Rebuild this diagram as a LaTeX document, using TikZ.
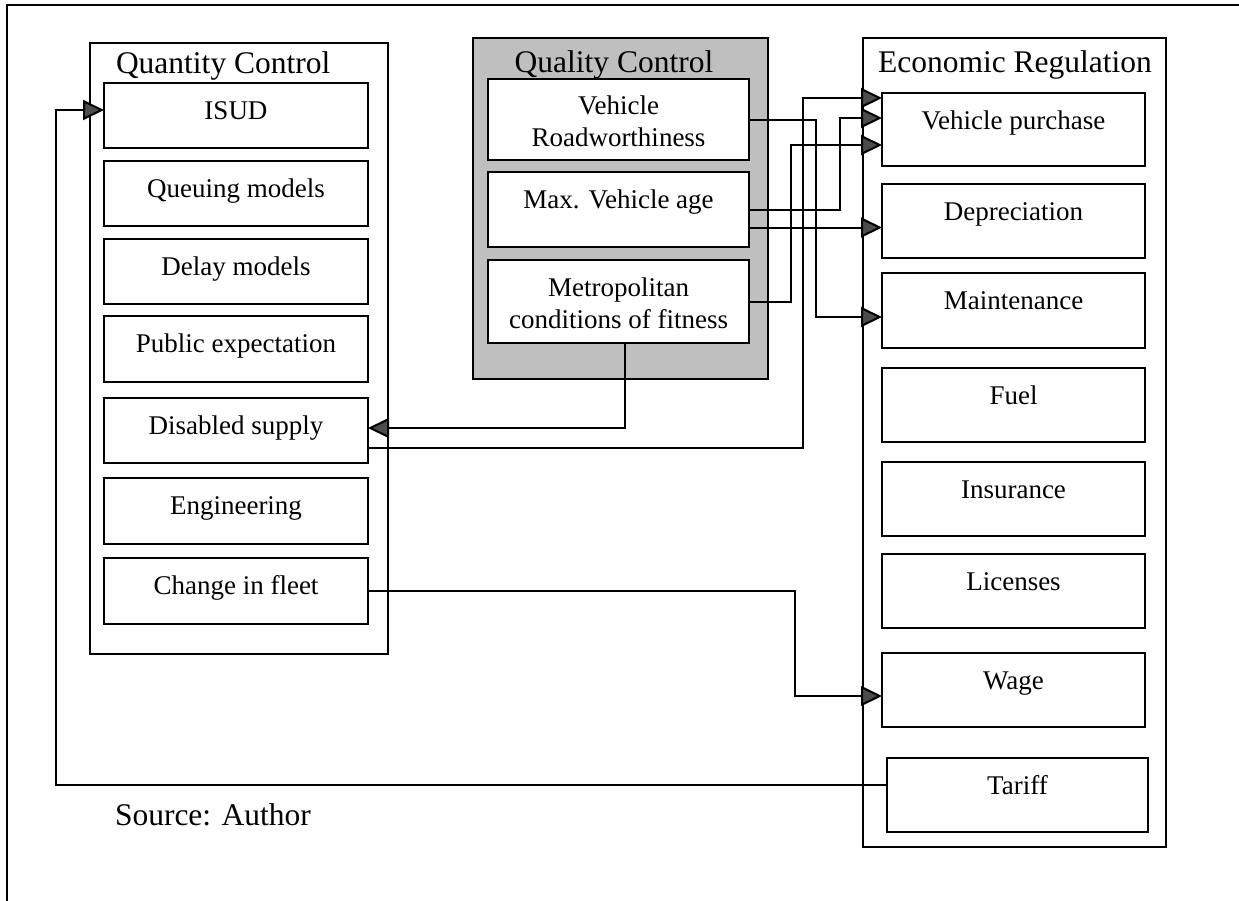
\documentclass[tikz,border=0pt]{standalone}
\usepackage{fontspec}
\setmainfont{Liberation Serif}
\usetikzlibrary{fit,arrows.meta}

% one framed cell: name, corners (x1,y1) (x2,y2), label set near the top
\newcommand\cellbox[6]{%
  \node[cell, fit={(#2,#3)(#4,#5)}] (#1) {};
  \node[celltext] (#1-t) at ([shift={(0,36)}]#1.north) {#6};}

\begin{document}
\begin{tikzpicture}[x=0.5pt,y=-0.5pt,
  every node/.style={inner sep=0pt, outer sep=0pt},
  cell/.style={draw, line width=1pt, fill=white},
  panel/.style={draw, line width=1pt},
  greypanel/.style={panel, fill=gray!50},
  celltext/.style={font=\fontsize{13.5}{16}\selectfont, anchor=base, align=center},
  twoline/.style={font=\fontsize{13.5}{16}\selectfont, anchor=center, align=center},
  paneltitle/.style={font=\fontsize{15.75}{19}\selectfont, anchor=base},
  wire/.style={line width=1pt},
  link/.style={wire, -{Triangle[length=10.5pt,width=10pt,fill=black!70]}}]

\useasboundingbox (0,0) rectangle (1239,901);

% page frame (open at the right and bottom)
\draw[line width=0.8pt] (7,901) -- (7,5) -- (1239,5);

% ---------------- Quantity Control ----------------
\node[panel, fit={(90,43)(388,654)}] (qty) {};
\node[paneltitle, anchor=base west] (qty-t) at (116,73) {Quantity Control};
\cellbox{isud}{104}{83}{368}{148}{ISUD}
\cellbox{queue}{104}{161}{368}{226}{Queuing models}
\cellbox{delay}{104}{239}{368}{304}{Delay models}
\cellbox{public}{104}{316}{368}{382}{Public expectation}
\cellbox{dis}{104}{398}{368}{463}{Disabled supply}
\cellbox{eng}{104}{478}{368}{544}{Engineering}
\cellbox{fleet}{104}{558}{368}{624}{Change in fleet}

% ---------------- Quality Control ----------------
\node[greypanel, fit={(473,38)(768,379)}] (qual) {};
\node[paneltitle] (qual-t) at (614,72) {Quality Control};
\node[cell, fit={(488,79)(749,160)}] (road) {};
\node[twoline] (road-t) at ([shift={(0,42)}]road.north) {Vehicle\\Roadworthiness};
\cellbox{age}{488}{172}{749}{247}{Max. Vehicle age}
\node[cell, fit={(488,260)(749,343)}] (metro) {};
\node[twoline] (metro-t) at ([shift={(0,43)}]metro.north) {Metropolitan\\conditions of fitness};

% ---------------- Economic Regulation ----------------
\node[panel, fit={(863,38)(1166,847)}] (econ) {};
\node[paneltitle] (econ-t) at (1015,72) {Economic Regulation};
\cellbox{vp}{882}{93}{1145}{166}{Vehicle purchase}
\cellbox{dep}{882}{184}{1145}{258}{Depreciation}
\cellbox{maint}{882}{273}{1145}{348}{Maintenance}
\cellbox{fuel}{882}{368}{1145}{442}{Fuel}
\cellbox{ins}{882}{462}{1145}{536}{Insurance}
\cellbox{lic}{882}{554}{1145}{628}{Licenses}
\cellbox{wage}{882}{653}{1145}{727}{Wage}
\cellbox{tariff}{887}{758}{1148}{832}{Tariff}

\node[paneltitle, anchor=base west] (src) at (115,825) {Source: Author};

% ---------------- ports and routing channels ----------------
\coordinate (age-b)     at ([shift={(0,18)}]age.east);
\coordinate (dis-in)    at ([shift={(0,-2.5)}]dis.east);
\coordinate (dis-out)   at ([shift={(0,17.5)}]dis.east);
\coordinate (metro-dn)  at ([shift={(6.5,0)}]metro.south);
\coordinate (vp-1)      at ([shift={(0,-31.5)}]vp.west);
\coordinate (vp-2)      at ([shift={(0,-11.5)}]vp.west);
\coordinate (vp-3)      at ([shift={(0,15.5)}]vp.west);
\coordinate (maint-in)  at ([shift={(0,6.5)}]maint.west);
\coordinate (wage-in)   at ([shift={(0,6)}]wage.west);
\coordinate (tariff-out) at ([shift={(0,-10)}]tariff.west);
\coordinate (isud-in)   at ([shift={(0,-5.5)}]isud.west);

\coordinate (ch-road)  at (816,0);
\coordinate (ch-age)   at (840,0);
\coordinate (ch-metro) at (791,0);
\coordinate (ch-dis)   at (803,0);
\coordinate (ch-fleet) at (795,0);
\coordinate (ch-loop)  at (56,0);

% ---------------- connectors ----------------
\draw[link] (road.east) -- (road.east -| ch-road) |- (maint-in);
\draw[link] (age.east) -- (age.east -| ch-age) |- (vp-2);
\draw[link] (age-b) -- (age-b -| dep.west);
\draw[link] (metro.east) -- (metro.east -| ch-metro) |- (vp-3);
\draw[link] (dis-out) -- (dis-out -| ch-dis) |- (vp-1);
\draw[link] (metro-dn) |- (dis-in);
\draw[link] (fleet.east) -- (fleet.east -| ch-fleet) |- (wage-in);
\draw[link] (tariff-out) -- (tariff-out -| ch-loop) |- (isud-in);

\end{tikzpicture}
\end{document}
